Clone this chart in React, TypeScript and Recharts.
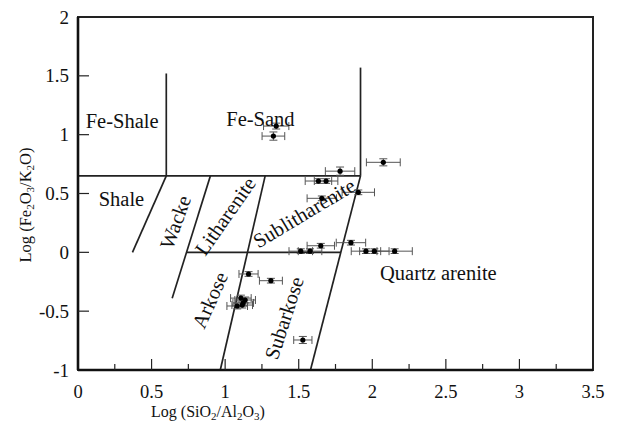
import React from 'react';
import {
  ScatterChart,
  Scatter,
  XAxis,
  YAxis,
  ErrorBar,
  ReferenceLine,
  ReferenceArea,
  Label,
} from 'recharts';

// sample values: log(SiO2/Al2O3), log(Fe2O3/K2O) and their errors
const sampleX = [1.347, 1.328, 2.075, 1.781, 1.634, 1.686, 1.905, 1.657, 1.65, 1.855, 1.514, 1.577, 1.957, 2.014, 2.152, 1.159, 1.311, 1.107, 1.136, 1.123, 1.082, 1.116, 1.528];
const sampleY = [1.073, 0.988, 0.765, 0.69, 0.606, 0.606, 0.51, 0.459, 0.056, 0.082, 0.01, 0.01, 0.01, 0.01, 0.01, -0.184, -0.241, -0.389, -0.405, -0.43, -0.456, -0.448, -0.745];
const sampleErrX = [0.086, 0.077, 0.115, 0.1, 0.09, 0.08, 0.11, 0.1, 0.093, 0.1, 0.08, 0.08, 0.1, 0.1, 0.12, 0.065, 0.078, 0.07, 0.07, 0.07, 0.07, 0.07, 0.062];
const sampleErrY = [0.025, 0.035, 0.03, 0.035, 0.02, 0.02, 0.02, 0.02, 0.02, 0.02, 0.02, 0.02, 0.02, 0.02, 0.02, 0.02, 0.02, 0.025, 0.025, 0.025, 0.025, 0.025, 0.03];

// field boundaries of the Herron (1988) diagram, [x1, y1, x2, y2]
const boundaries = [
  [0, 0.65, 1.92, 0.65],
  [0.6, 0.65, 0.6, 1.52],
  [1.92, 0.65, 1.92, 1.57],
  [0.37, 0, 0.6, 0.65],
  [0.64, -0.39, 0.9, 0.65],
  [0.967, -1, 1.272, 0.65],
  [0.74, 0, 1.786, 0],
  [1.58, -1, 1.92, 0.65],
];

const fieldNames = ['Fe-Shale', 'Fe-Sand', 'Shale', 'Wacke', 'Litharenite', 'Sublitharenite', 'Arkose', 'Subarkose', 'Quartz arenite'];
const fieldX = [0.3, 1.24, 0.295, 0.661, 1.0, 1.537, 0.896, 1.4, 2.449];
const fieldY = [1.115, 1.132, 0.457, 0.257, 0.308, 0.334, -0.405, -0.558, -0.176];
const fieldAngles = [0, 0, 0, -70, -55, -31, -66, -72, 0];

const xTicks = [0, 0.25, 0.5, 0.75, 1, 1.25, 1.5, 1.75, 2, 2.25, 2.5, 2.75, 3, 3.25, 3.5];
const yTicks = [-1, -0.5, 0, 0.5, 1, 1.5, 2];

const serif = { fontFamily: "'Liberation Serif', 'DejaVu Serif', serif" };

const samples = sampleX.map((x, i) => ({ x, y: sampleY[i], ex: sampleErrX[i], ey: sampleErrY[i] }));
const fields = fieldNames.map((name, i) => ({ x: fieldX[i], y: fieldY[i], name, angle: fieldAngles[i] }));

const XTick = ({ x, y, payload }: any) => {
  const v = payload.value;
  const major = Math.abs(v * 2 - Math.round(v * 2)) < 1e-6;
  return (
    <g>
      {v > 0 && v < 3.5 && <line x1={x} y1={y} x2={x} y2={y - (major ? 11 : 6)} stroke="#222" strokeWidth={1.2} />}
      {major && (
        <text x={x} y={y + 28} textAnchor="middle" fontSize={18.5} style={serif} fill="#111">
          {String(v)}
        </text>
      )}
    </g>
  );
};

const YTick = ({ x, y, payload }: any) => {
  const v = payload.value;
  return (
    <g>
      {v > -1 && v < 2 && <line x1={x} y1={y} x2={x + 11} y2={y} stroke="#222" strokeWidth={1.2} />}
      <text x={x - 9} y={y} dy="0.35em" textAnchor="end" fontSize={19} style={serif} fill="#111">
        {String(v)}
      </text>
    </g>
  );
};

const XTitle = ({ viewBox }: any) => (
  <text x={viewBox.x + 130} y={viewBox.y + 46.5} textAnchor="middle" fontSize={16} style={serif} fill="#111">
    Log (SiO<tspan dy={3} fontSize={11}>2</tspan>
    <tspan dy={-3}>/Al</tspan>
    <tspan dy={3} fontSize={11}>2</tspan>
    <tspan dy={-3}>O</tspan>
    <tspan dy={3} fontSize={11}>3</tspan>
    <tspan dy={-3}>)</tspan>
  </text>
);

const YTitle = ({ viewBox }: any) => {
  const cx = viewBox.x + 13;
  const cy = viewBox.y + 188;
  return (
    <text x={cx} y={cy} textAnchor="middle" fontSize={16.5} style={serif} fill="#111" transform={`rotate(-90, ${cx}, ${cy})`}>
      Log (Fe<tspan dy={3} fontSize={11}>2</tspan>
      <tspan dy={-3}>O</tspan>
      <tspan dy={3} fontSize={11}>3</tspan>
      <tspan dy={-3}>/K</tspan>
      <tspan dy={3} fontSize={11}>2</tspan>
      <tspan dy={-3}>O)</tspan>
    </text>
  );
};

const FieldLabel = ({ cx, cy, payload }: any) => (
  <text
    x={cx}
    y={cy}
    dy="0.35em"
    textAnchor="middle"
    fontSize={20.5}
    style={serif}
    fill="#111"
    transform={`rotate(${payload.angle}, ${cx}, ${cy})`}
  >
    {payload.name}
  </text>
);

const Dot = ({ cx, cy }: any) => <circle cx={cx} cy={cy} r={2.6} fill="#000" />;

export default function App() {
  return (
    <div style={{ position: 'absolute', left: 0, top: 0, width: 617, height: 421, background: '#fff', ...serif }}>
      <ScatterChart width={617} height={421} margin={{ top: 17, right: 24, bottom: 21, left: 18 }}>
        <XAxis
          type="number"
          dataKey="x"
          domain={[0, 3.5]}
          ticks={xTicks}
          interval={0}
          allowDataOverflow
          height={30}
          tickSize={0}
          tickMargin={0}
          tickLine={false}
          tick={<XTick />}
          axisLine={{ stroke: '#111', strokeWidth: 2.4 }}
        >
          <Label content={<XTitle />} />
        </XAxis>
        <YAxis
          type="number"
          dataKey="y"
          domain={[-1, 2]}
          ticks={yTicks}
          interval={0}
          allowDataOverflow
          width={60}
          tickSize={0}
          tickMargin={0}
          tickLine={false}
          tick={<YTick />}
          axisLine={{ stroke: '#111', strokeWidth: 2.6 }}
        >
          <Label content={<YTitle />} />
        </YAxis>
        <ReferenceArea x1={0} x2={3.5} y1={-1} y2={2} fill="none" stroke="#222" strokeWidth={2} ifOverflow="visible" />
        {boundaries.map((b, i) => (
          <ReferenceLine
            key={i}
            segment={[{ x: b[0], y: b[1] }, { x: b[2], y: b[3] }]}
            stroke="#222"
            strokeWidth={1.7}
            ifOverflow="visible"
          />
        ))}
        <Scatter data={fields} shape={<FieldLabel />} isAnimationActive={false} />
        <Scatter data={samples} shape={<Dot />} isAnimationActive={false}>
          <ErrorBar dataKey="ex" direction="x" width={4} stroke="#555" strokeWidth={1} />
          <ErrorBar dataKey="ey" direction="y" width={4} stroke="#555" strokeWidth={1} />
        </Scatter>
      </ScatterChart>
    </div>
  );
}
